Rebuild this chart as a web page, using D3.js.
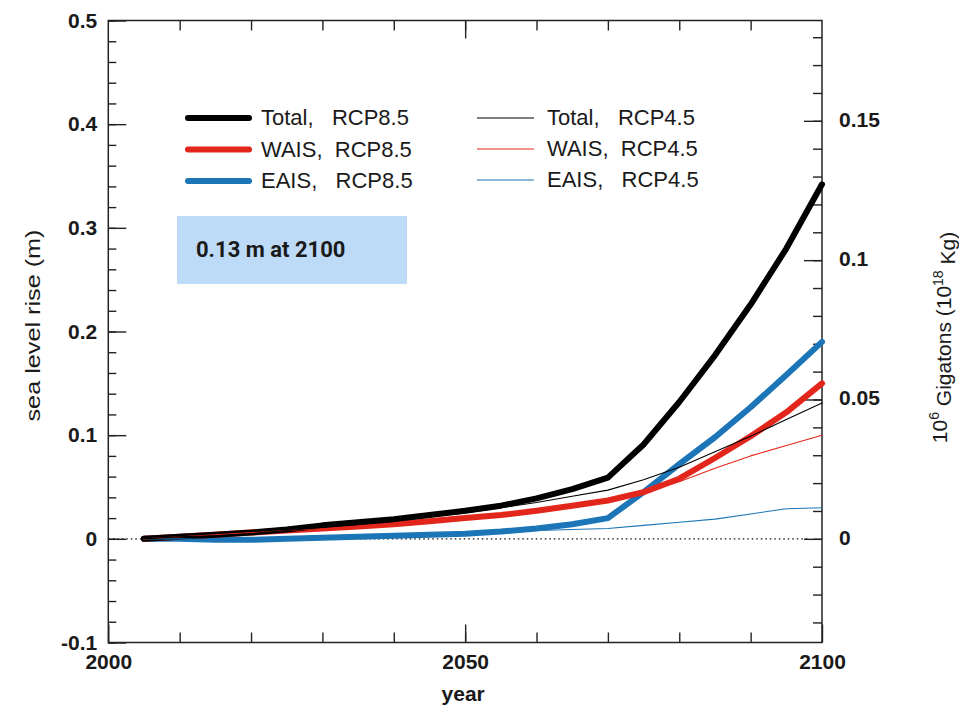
<!DOCTYPE html>
<html>
<head>
<meta charset="utf-8">
<script src="https://cdn.jsdelivr.net/npm/d3@7"></script>
<style>
  body { margin: 0; background: #fff; }
  svg text { font-family: "Liberation Sans", Arial, Helvetica, sans-serif; fill: #1a1a1a; }
</style>
</head>
<body>
<div class="canvas"></div>
<script>
// data, metres of sea level rise
const years   = [2005, 2010, 2015, 2020, 2025, 2030, 2035, 2040, 2045, 2050, 2055, 2060, 2065, 2070, 2075, 2080, 2085, 2090, 2095, 2100];
const total85 = [0, 0.002, 0.004, 0.006, 0.009, 0.013, 0.016, 0.019, 0.023, 0.027, 0.032, 0.039, 0.048, 0.059, 0.091, 0.132, 0.177, 0.226, 0.280, 0.342];
const wais85  = [0, 0.002, 0.004, 0.006, 0.008, 0.010, 0.012, 0.014, 0.017, 0.020, 0.023, 0.027, 0.032, 0.037, 0.045, 0.058, 0.078, 0.099, 0.122, 0.150];
const eais85  = [0, 0, -0.001, -0.001, 0, 0.001, 0.002, 0.003, 0.004, 0.005, 0.007, 0.010, 0.014, 0.020, 0.045, 0.072, 0.098, 0.127, 0.158, 0.190];
const total45 = [0, 0.002, 0.003, 0.005, 0.008, 0.011, 0.014, 0.017, 0.021, 0.025, 0.030, 0.035, 0.041, 0.047, 0.057, 0.069, 0.084, 0.099, 0.115, 0.131];
const wais45  = [0, 0.002, 0.004, 0.006, 0.008, 0.010, 0.012, 0.014, 0.017, 0.020, 0.023, 0.027, 0.032, 0.037, 0.045, 0.055, 0.068, 0.080, 0.090, 0.100];
const eais45  = [0, 0, -0.001, -0.001, 0, 0.001, 0.002, 0.003, 0.004, 0.005, 0.007, 0.008, 0.009, 0.010, 0.013, 0.016, 0.019, 0.024, 0.029, 0.030];

const legendLabels = ['Total,   RCP8.5', 'WAIS,  RCP8.5', 'EAIS,   RCP8.5', 'Total,   RCP4.5', 'WAIS,  RCP4.5', 'EAIS,   RCP4.5'];
const leftTicks  = [-0.1, 0, 0.1, 0.2, 0.3, 0.4, 0.5];
const rightTicks = [0, 0.05, 0.1, 0.15];
const yearTicks  = [2000, 2050, 2100];
const noteText = '0.13 m at 2100';

const width = 959, height = 709;
const gtPerMetre = 0.372; // right axis: 10^6 Gt per metre

const svg = d3.select('.canvas')
    .append('svg')
    .attr('width', width)
    .attr('height', height);

const x = d3.scaleLinear().domain([2000, 2100]).range([108.3, 822]);
const y = d3.scaleLinear().domain([-0.1, 0.5]).range([642.5, 20.5]);
const yR = d3.scaleLinear().domain(y.domain().map(d => d * gtPerMetre)).range(y.range());

const fmt = d => String(+d.toFixed(2));
const axisStroke = '#222';

function styleAxis(g) {
    g.select('.domain').remove();
    g.selectAll('line').attr('stroke', axisStroke).attr('stroke-width', 1.4);
    g.selectAll('text')
        .style('font-size', '21px')
        .style('font-weight', 'bold')
        .attr('fill', '#1a1a1a');
}

// left axis
svg.append('g').attr('transform', `translate(${x(2000)},0)`)
    .call(d3.axisLeft(y).tickValues(d3.range(-0.1, 0.5001, 0.02)).tickSize(-8).tickFormat(''))
    .call(styleAxis);
svg.append('g').attr('transform', `translate(${x(2000)},0)`)
    .call(d3.axisLeft(y).tickValues(leftTicks).tickSize(-18).tickPadding(11).tickFormat(fmt))
    .call(styleAxis);

// right axis
svg.append('g').attr('transform', `translate(${x(2100)},0)`)
    .call(d3.axisRight(yR).tickValues(d3.range(-0.03, 0.1801, 0.01)).tickSize(-9).tickFormat(''))
    .call(styleAxis);
svg.append('g').attr('transform', `translate(${x(2100)},0)`)
    .call(d3.axisRight(yR).tickValues(rightTicks).tickSize(-18).tickPadding(17).tickFormat(fmt))
    .call(styleAxis)
    .selectAll('text').attr('dy', '0.25em');

// bottom axis
svg.append('g').attr('transform', `translate(0,${y(-0.1)})`)
    .call(d3.axisBottom(x).tickValues(d3.range(2010, 2100, 10)).tickSize(-10).tickFormat(''))
    .call(styleAxis);
svg.append('g').attr('transform', `translate(0,${y(-0.1)})`)
    .call(d3.axisBottom(x).tickValues(yearTicks).tickSize(-18).tickPadding(12).tickFormat(d3.format('d')))
    .call(styleAxis);

// top axis
svg.append('g').attr('transform', `translate(0,${y(0.5)})`)
    .call(d3.axisTop(x).tickValues(d3.range(2010, 2100, 10)).tickSize(-10).tickFormat(''))
    .call(styleAxis);
svg.append('g').attr('transform', `translate(0,${y(0.5)})`)
    .call(d3.axisTop(x).tickValues([2050]).tickSize(-18).tickFormat(''))
    .call(styleAxis);

// frame
svg.append('rect')
    .attr('x', x(2000)).attr('y', y(0.5))
    .attr('width', x(2100) - x(2000)).attr('height', y(-0.1) - y(0.5))
    .attr('fill', 'none').attr('stroke', axisStroke).attr('stroke-width', 1.5);

// zero line
svg.append('line')
    .attr('x1', x(2000)).attr('x2', x(2098))
    .attr('y1', y(0)).attr('y2', y(0))
    .attr('stroke', '#111').attr('stroke-width', 1.3)
    .attr('stroke-dasharray', '1.5,3');

// axis titles
svg.append('text')
    .attr('transform', `translate(40,${(y(0.5) + y(-0.1)) / 2 - 6}) rotate(-90)`)
    .attr('text-anchor', 'middle')
    .style('font-size', '21px')
    .attr('textLength', 192)
    .attr('lengthAdjust', 'spacingAndGlyphs')
    .text('sea level rise (m)');

const rTitle = svg.append('text')
    .attr('transform', `translate(947,${(y(0.5) + y(-0.1)) / 2 + 6}) rotate(-90)`)
    .attr('text-anchor', 'middle')
    .style('font-size', '21px');
rTitle.append('tspan').text('10');
rTitle.append('tspan').attr('dy', '-0.55em').style('font-size', '14px').text('6');
rTitle.append('tspan').attr('dy', '0.55em').text(' Gigatons (10');
rTitle.append('tspan').attr('dy', '-0.55em').style('font-size', '14px').text('18');
rTitle.append('tspan').attr('dy', '0.55em').text(' Kg)');

svg.append('text')
    .attr('x', x(2050) - 2).attr('y', 701)
    .attr('text-anchor', 'middle')
    .style('font-size', '21px')
    .style('font-weight', 'bold')
    .text('year');

// series
const series = [
    { values: total85, color: '#000000', w: 6 },
    { values: wais85,  color: '#e3261c', w: 6 },
    { values: eais85,  color: '#1b75b6', w: 6 },
    { values: total45, color: '#000000', w: 1.1 },
    { values: wais45,  color: '#e3261c', w: 1.1 },
    { values: eais45,  color: '#1b75b6', w: 1.1 },
];

const line = d3.line()
    .x((d, i) => x(years[i]))
    .y(d => y(d));

// thin lines on top of the thick ones
const drawOrder = [2, 1, 0, 5, 4, 3];
svg.selectAll('.series')
    .data(drawOrder.map(i => series[i]))
    .enter()
    .append('path')
    .attr('class', 'series')
    .attr('fill', 'none')
    .attr('stroke', d => d.color)
    .attr('stroke-width', d => d.w)
    .attr('stroke-linejoin', 'round')
    .attr('stroke-linecap', 'round')
    .attr('d', d => line(d.values));

// legend
const legend = svg.selectAll('.leg')
    .data(series)
    .enter()
    .append('g')
    .attr('class', 'leg')
    .attr('transform', (d, i) => i < 3
        ? `translate(188,${118 + i * 31.5})`
        : `translate(477,${118 + (i - 3) * 31})`);

legend.append('line')
    .attr('x1', 0).attr('x2', (d, i) => i < 3 ? 61 : 57)
    .attr('y1', 0).attr('y2', 0)
    .attr('stroke', d => d.color)
    .attr('stroke-width', d => d.w)
    .attr('stroke-linecap', d => d.w > 2 ? 'round' : 'butt');

legend.append('text')
    .attr('x', (d, i) => i < 3 ? 73 : 70)
    .attr('y', 7)
    .style('font-size', '22px')
    .attr('fill', '#222')
    .style('white-space', 'pre')
    .attr('xml:space', 'preserve')
    .text((d, i) => legendLabels[i]);

// annotation box
svg.append('rect')
    .attr('x', 177).attr('y', 216)
    .attr('width', 230).attr('height', 68)
    .attr('fill', '#bddbf6');
svg.append('text')
    .attr('x', 196).attr('y', 257)
    .style('font-family', 'Roboto, "Open Sans", sans-serif')
    .style('font-size', '22px')
    .style('font-weight', 'bold')
    .attr('fill', '#111')
    .text(noteText);
</script>
</body>
</html>
